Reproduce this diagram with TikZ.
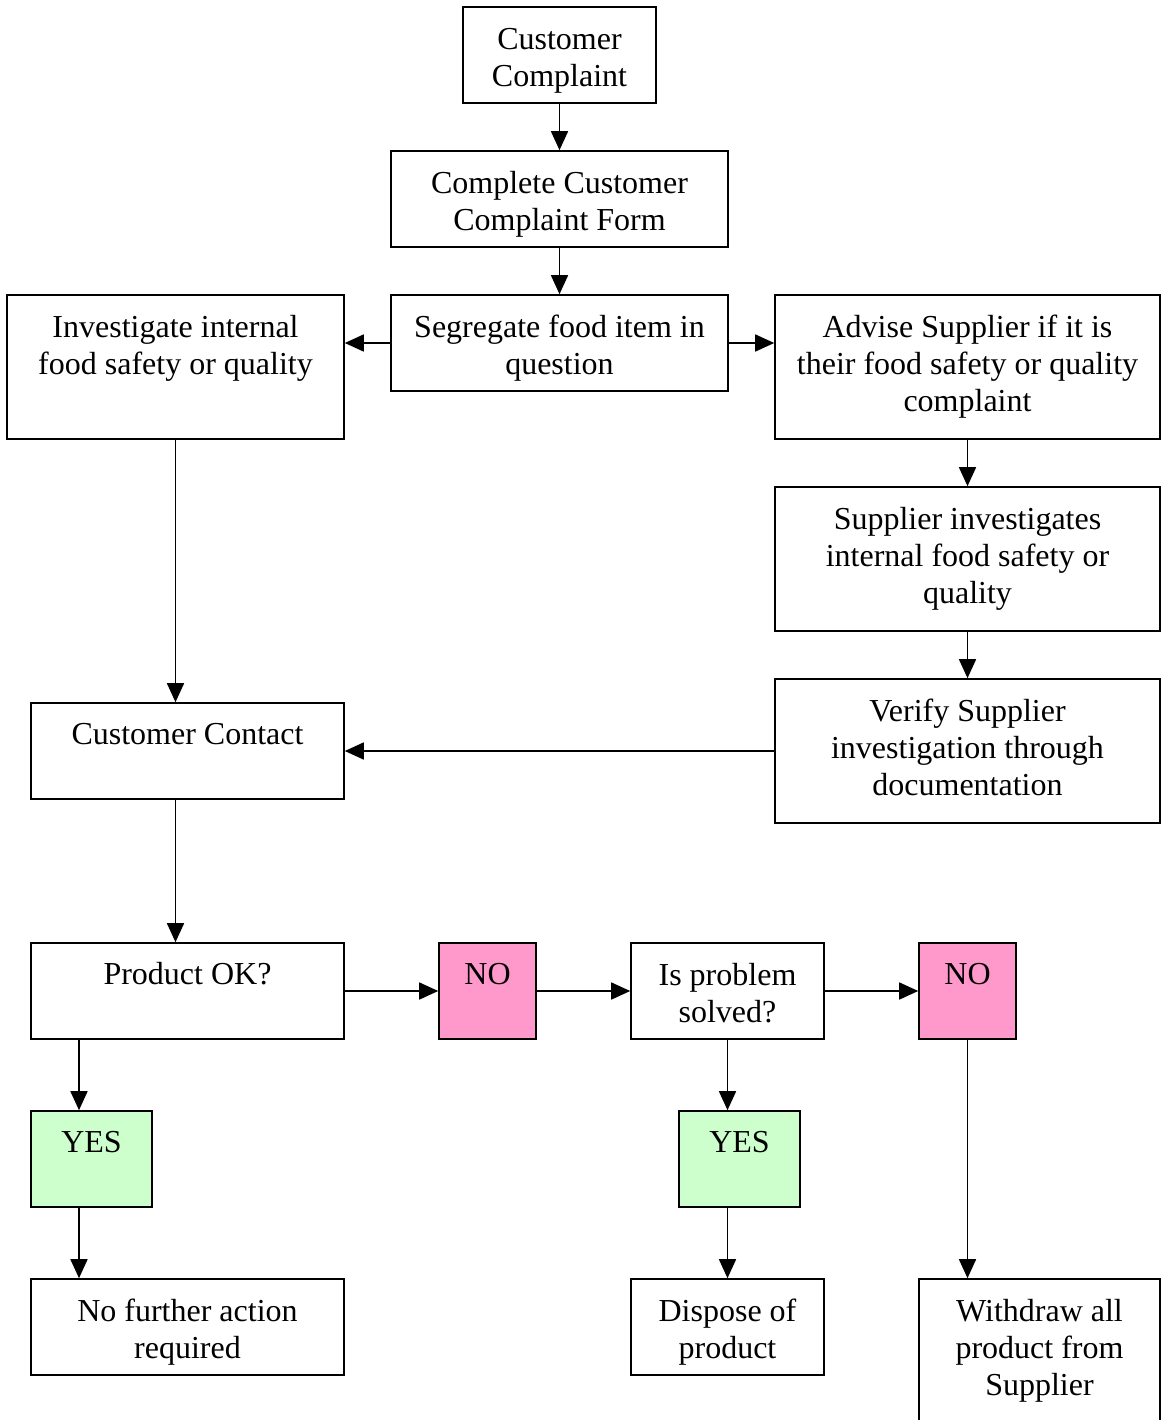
\documentclass[tikz,border=0pt]{standalone}
\usepackage{fontspec}
\setmainfont{Liberation Serif}
\usetikzlibrary{arrows.meta}
\definecolor{pinkno}{HTML}{FF99CC}
\definecolor{greenyes}{HTML}{CCFFCC}
\tikzset{
  box/.style={draw=black, line width=1.6pt, rectangle, inner sep=0pt},
  txt/.style={anchor=north, inner sep=0pt, yshift=-16pt, align=center,
    font=\fontsize{32}{37}\selectfont, execute at begin node=\strut},
  multi/.style={yshift=-4.5pt},
  single/.style={},
  arr/.style={line width=1.6pt, -{Triangle[length=19pt,width=17pt]}},
  nobox/.style={fill=pinkno},
  yesbox/.style={fill=greenyes},
  plain/.style={}
}
\newcommand{\mybox}[8]{%
  \node[box,#6,minimum width={#4-#2}, minimum height={#5-#3}] (#1) at ({(#2+#4)/2},{(#3+#5)/2}) {};
  \node[txt,#7] (#1t) at (#1.north) {#8};}
\begin{document}
\begin{tikzpicture}[x=1pt,y=-1pt]
\useasboundingbox (0,0) rectangle (1162,1420);
\clip (0,0) rectangle (1162,1420);
\fill[white] (0,0) rectangle (1162,1420);
\mybox{b1}{463}{7}{656}{103}{plain}{multi,yshift=-1pt}{Customer\\Complaint}
\mybox{b2}{391}{151}{728}{247}{plain}{multi}{Complete Customer\\Complaint Form}
\mybox{b3}{391}{295}{728}{391}{plain}{multi}{Segregate food item in\\question}
\mybox{b4}{7}{295}{344}{439}{plain}{multi}{Investigate internal\\food safety or quality}
\mybox{b5}{775}{295}{1160}{439}{plain}{multi}{Advise Supplier if it is\\their food safety or quality\\complaint}
\mybox{b6}{775}{487}{1160}{631}{plain}{multi}{Supplier investigates\\internal food safety or\\quality}
\mybox{b7}{775}{679}{1160}{823}{plain}{multi}{Verify Supplier\\investigation through\\documentation}
\mybox{b8}{31}{703}{344}{799}{plain}{single}{Customer Contact}
\mybox{b9}{31}{943}{344}{1039}{plain}{single}{Product OK?}
\mybox{no1}{439}{943}{536}{1039}{nobox}{single}{NO}
\mybox{b11}{631}{943}{824}{1039}{plain}{multi}{Is problem\\solved?}
\mybox{no2}{919}{943}{1016}{1039}{nobox}{single}{NO}
\mybox{yes1}{31}{1111}{152}{1207}{yesbox}{single}{YES}
\mybox{yes2}{679}{1111}{800}{1207}{yesbox}{single}{YES}
\mybox{b15}{31}{1279}{344}{1375}{plain}{multi}{No further action\\required}
\mybox{b16}{631}{1279}{824}{1375}{plain}{multi}{Dispose of\\product}
\mybox{b17}{919}{1279}{1160}{1460}{plain}{multi}{Withdraw all\\product from\\Supplier}
\coordinate (xa) at (79,0);
\draw[arr] (b1) -- (b2);
\draw[arr] (b2) -- (b3);
\draw[arr] (b3.west) -- (b4.east |- b3.west);
\draw[arr] (b3.east) -- (b5.west |- b3.east);
\draw[arr] (b5) -- (b6);
\draw[arr] (b6) -- (b7);
\draw[arr] (b4.south) -- (b4.south |- b8.north);
\draw[arr] (b7.west) -- (b8.east |- b7.west);
\draw[arr] (b8.south -| b4.south) -- (b9.north -| b4.south);
\draw[arr] (b9) -- (no1);
\draw[arr] (no1) -- (b11);
\draw[arr] (b11) -- (no2);
\draw[arr] (b9.south -| xa) -- (yes1.north -| xa);
\draw[arr] (yes1.south -| xa) -- (b15.north -| xa);
\draw[arr] (b11.south) -- (b11.south |- yes2.north);
\draw[arr] (yes2.south -| b11.south) -- (b16.north);
\draw[arr] (no2.south) -- (no2.south |- b17.north);
\end{tikzpicture}
\end{document}
